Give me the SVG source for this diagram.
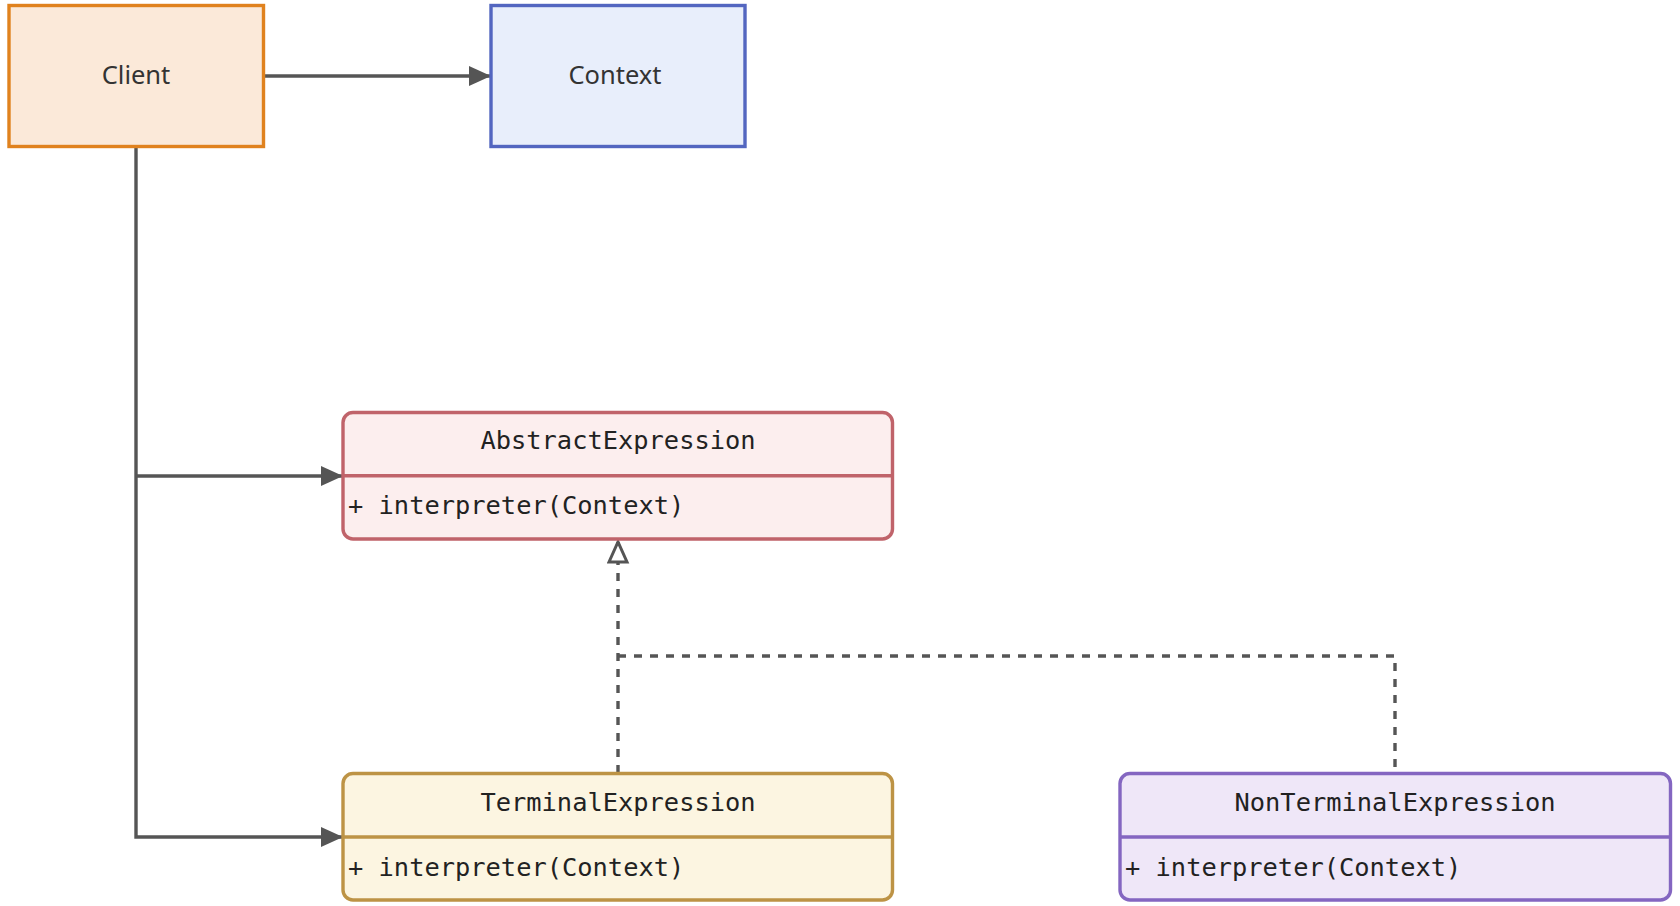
<svg xmlns="http://www.w3.org/2000/svg" width="1680" height="906" viewBox="0 0 1680 906">
<style>
.lbl{font-family:"Noto Sans","Open Sans",sans-serif;font-size:25.5px;fill:#333;text-anchor:middle}
.mono{font-family:"DejaVu Sans Mono","Liberation Mono",monospace;font-size:25.4px;fill:#222}
.ttl{text-anchor:middle}
.edge{fill:none;stroke:#555;stroke-width:3.4}
.dash{stroke-dasharray:8 8}
</style>
<defs>
<marker id="arr" markerUnits="userSpaceOnUse" markerWidth="22" markerHeight="20" refX="21" refY="10" orient="auto">
<path d="M0,0 L22,10 L0,20 z" fill="#555"/>
</marker>
<marker id="tri" markerUnits="userSpaceOnUse" markerWidth="26" markerHeight="24" refX="22" refY="11" orient="auto">
<path d="M2,2 L22,11 L2,20 z" fill="#fff" stroke="#555" stroke-width="3"/>
</marker>
</defs>
<rect width="1680" height="906" fill="#fff"/>
<g id="edges">
<path class="edge" d="M264,76 H490" marker-end="url(#arr)"/>
<path class="edge" d="M136,147 V837 H342" marker-end="url(#arr)"/>
<path class="edge" d="M136,476 H342" marker-end="url(#arr)"/>
<path class="edge dash" d="M618,773 V542" marker-end="url(#tri)"/>
<path class="edge dash" d="M618,656 H1395 V773"/>
</g>
<g id="Client">
<rect x="9" y="5.5" width="254.5" height="141" fill="#FBE9D9" stroke="#E0821E" stroke-width="3.4"/>
<text class="lbl" x="136" y="84">Client</text>
</g>
<g id="Context">
<rect x="491" y="5.5" width="254" height="141" fill="#E8EEFB" stroke="#5366C0" stroke-width="3.4"/>
<text class="lbl" x="615" y="84">Context</text>
</g>
<g id="AbstractExpression">
<rect x="343" y="412.5" width="549.5" height="126.5" rx="10" fill="#FCEEEE" stroke="#C0636A" stroke-width="3.4"/>
<line x1="343" y1="475.7" x2="892.5" y2="475.7" stroke="#C0636A" stroke-width="3.4"/>
<text class="mono ttl" x="618" y="449">AbstractExpression</text>
<text class="mono" x="348" y="514">+ interpreter(Context)</text>
</g>
<g id="TerminalExpression">
<rect x="343" y="773.5" width="549.5" height="126.5" rx="10" fill="#FCF5E1" stroke="#BD9345" stroke-width="3.4"/>
<line x1="343" y1="837" x2="892.5" y2="837" stroke="#BD9345" stroke-width="3.4"/>
<text class="mono ttl" x="618" y="811">TerminalExpression</text>
<text class="mono" x="348" y="876">+ interpreter(Context)</text>
</g>
<g id="NonTerminalExpression">
<rect x="1120" y="773.5" width="550.5" height="126.5" rx="10" fill="#EFE7F8" stroke="#8466C1" stroke-width="3.4"/>
<line x1="1120" y1="837" x2="1670.5" y2="837" stroke="#8466C1" stroke-width="3.4"/>
<text class="mono ttl" x="1395" y="811">NonTerminalExpression</text>
<text class="mono" x="1125" y="876">+ interpreter(Context)</text>
</g>
</svg>
